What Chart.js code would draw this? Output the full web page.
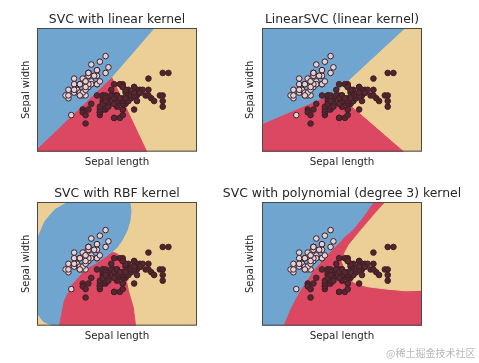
<!DOCTYPE html>
<html>
<head>
<meta charset="utf-8">
<script src="https://cdn.jsdelivr.net/npm/chart.js@4.4.1/dist/chart.umd.min.js"></script>
<style>
  html, body { margin: 0; padding: 0; background: #fff; }
  #wrap { position: relative; width: 479px; height: 363px; overflow: hidden; }
  canvas { position: absolute; }
  #mark { position: absolute; left: 386px; top: 345px; font: 10px 'Noto Sans CJK SC'; color: #b8b8b8; white-space: nowrap; }
</style>
</head>
<body>
<div id="wrap">
  <canvas id="c1" width="234" height="180" style="left:0;top:0"></canvas>
  <canvas id="c2" width="274" height="180" style="left:205px;top:0"></canvas>
  <canvas id="c3" width="234" height="180" style="left:0;top:174px"></canvas>
  <canvas id="c4" width="274" height="180" style="left:205px;top:174px"></canvas>
  <div id="mark">@稀土掘金技术社区</div>
</div>
<script>
// iris: sepal length / sepal width per species
const setosaLength = [5.1,4.9,4.7,4.6,5.0,5.4,4.6,5.0,4.4,4.9,5.4,4.8,4.8,4.3,5.8,5.7,5.4,5.1,5.7,5.1,5.4,5.1,4.6,5.1,4.8,5.0,5.0,5.2,5.2,4.7,4.8,5.4,5.2,5.5,4.9,5.0,5.5,4.9,4.4,5.1,5.0,4.5,4.4,5.0,5.1,4.8,5.1,4.6,5.3,5.0];
const setosaWidth = [3.5,3.0,3.2,3.1,3.6,3.9,3.4,3.4,2.9,3.1,3.7,3.4,3.0,3.0,4.0,4.4,3.9,3.5,3.8,3.8,3.4,3.7,3.6,3.3,3.4,3.0,3.4,3.5,3.4,3.2,3.1,3.4,4.1,4.2,3.1,3.2,3.5,3.6,3.0,3.4,3.5,2.3,3.2,3.5,3.8,3.0,3.8,3.2,3.7,3.3];
const versicolorLength = [7.0,6.4,6.9,5.5,6.5,5.7,6.3,4.9,6.6,5.2,5.0,5.9,6.0,6.1,5.6,6.7,5.6,5.8,6.2,5.6,5.9,6.1,6.3,6.1,6.4,6.6,6.8,6.7,6.0,5.7,5.5,5.5,5.8,6.0,5.4,6.0,6.7,6.3,5.6,5.5,5.5,6.1,5.8,5.0,5.6,5.7,5.7,6.2,5.1,5.7];
const versicolorWidth = [3.2,3.2,3.1,2.3,2.8,2.8,3.3,2.4,2.9,2.7,2.0,3.0,2.2,2.9,2.9,3.1,3.0,2.7,2.2,2.5,3.2,2.8,2.5,2.8,2.9,3.0,2.8,3.0,2.9,2.6,2.4,2.4,2.7,2.7,3.0,3.4,3.1,2.3,3.0,2.5,2.6,3.0,2.6,2.3,2.7,3.0,2.9,2.9,2.5,2.8];
const virginicaLength = [6.3,5.8,7.1,6.3,6.5,7.6,4.9,7.3,6.7,7.2,6.5,6.4,6.8,5.7,5.8,6.4,6.5,7.7,7.7,6.0,6.9,5.6,7.7,6.3,6.7,7.2,6.2,6.1,6.4,7.2,7.4,7.9,6.4,6.3,6.1,7.7,6.3,6.4,6.0,6.9,6.7,6.9,5.8,6.8,6.7,6.7,6.3,6.5,6.2,5.9];
const virginicaWidth = [3.3,2.7,3.0,2.9,3.0,3.0,2.5,2.9,2.5,3.6,3.2,2.7,3.0,2.5,2.8,3.2,3.0,3.8,2.6,2.2,3.2,2.8,2.8,2.7,3.3,3.2,2.8,3.0,2.8,3.0,2.8,3.8,2.8,2.8,2.6,3.0,3.4,3.1,3.0,3.1,3.1,3.1,2.7,3.2,3.3,3.0,2.5,3.0,3.4,3.0];

const xRange = [3.3, 8.9];
const yRange = [1.0, 5.4];
const plotBox = [[3.3,5.4],[8.9,5.4],[8.9,1.0],[3.3,1.0]];

// decision regions, [sepal length, sepal width] vertices
const linearBlue = [[3.3,5.4],[7.4,5.4],[5.91,3.65],[3.3,1.1]];
const linearRed = [[3.3,1.1],[5.91,3.65],[7.14,1.0],[3.3,1.0]];

const linSvcBlue = [[3.3,5.4],[8.3,5.4],[5.86,3.1],[3.3,1.99]];
const linSvcRed = [[3.3,1.99],[5.86,3.1],[8.25,1.0],[3.3,1.0]];

const rbfBlue = [[3.3,4.06],[3.58,4.72],[3.93,5.13],[4.4,5.4],[6.55,5.4],[6.59,5.07],[6.55,4.71],[6.44,4.36],[6.26,4.01],[6.09,3.77],[5.92,3.62],[5.56,3.35],[4.98,3.0],[4.51,2.47],[4.22,1.88],[4.05,1.0],[3.87,1.0],[3.52,1.15],[3.3,1.46]];
const rbfRed = [[5.92,3.62],[6.12,3.55],[6.26,3.3],[6.38,2.82],[6.5,2.24],[6.67,1.64],[6.75,1.0],[4.05,1.0],[4.22,1.88],[4.51,2.47],[4.98,3.0],[5.56,3.35]];

const polyBlue = [[3.3,5.4],[7.2,5.4],[6.85,4.89],[6.48,4.42],[6.17,4.15],[6.0,3.95],[5.53,3.47],[5.12,3.0],[4.77,2.47],[4.48,1.99],[4.25,1.52],[4.04,1.0],[3.3,1.0]];
const polyTan = [[7.63,5.4],[8.9,5.4],[8.9,2.26],[8.33,2.24],[7.66,2.3],[6.96,2.39],[6.5,2.55],[6.25,2.9],[6.1,3.3],[6.2,3.6],[6.35,3.88],[6.64,4.24],[6.93,4.59],[7.28,5.01]];

const BLUE = '#6fa5cf', RED = '#dc4862', TAN = '#ebcf97';
const TEXT = '#262626';

Chart.defaults.font.family = "'DejaVu Sans', sans-serif";

const frame = {
  id: 'frame',
  afterDatasetsDraw(chart) {
    const { ctx, chartArea: a } = chart;
    ctx.save();
    ctx.strokeStyle = '#4a4a4a';
    ctx.lineWidth = 1;
    ctx.strokeRect(a.left + 0.5, a.top + 0.5, a.right - a.left - 1, a.bottom - a.top - 1);
    ctx.restore();
  }
};

function points(xs, ys, fill) {
  return {
    data: xs.map((x, i) => ({ x, y: ys[i] })),
    backgroundColor: fill,
    borderColor: '#3c2028',
    borderWidth: 1,
    pointRadius: 2.8,
    order: 0
  };
}

function shape(poly, color, order) {
  const pts = poly.map(([x, y]) => ({ x, y }));
  pts.push(pts[0]);
  return {
    data: pts,
    showLine: true,
    fill: 'shape',
    backgroundColor: color,
    borderColor: color,
    borderWidth: 1,
    pointRadius: 0,
    tension: 0,
    order
  };
}

// leftGap / rightGap: room beside the plot area; the y title sits at yTitleX from the canvas edge
function panel(id, title, leftGap, rightGap, yTitleX, background, regions) {
  const datasets = [
    points(setosaLength, setosaWidth, '#e2d2d8'),
    points(versicolorLength, versicolorWidth, '#5a2630'),
    points(virginicaLength, virginicaWidth, '#552229')
  ];
  regions.forEach(r => datasets.push(shape(r[0], r[1], 1)));
  datasets.push(shape(plotBox, background, 2));

  const blank = { display: false, drawTicks: false };
  new Chart(document.getElementById(id), {
    type: 'scatter',
    data: { datasets },
    plugins: [frame],
    options: {
      responsive: false,
      animation: false,
      events: [],
      layout: { autoPadding: false, padding: { left: 0, right: 0, top: 0, bottom: 11 } },
      plugins: {
        legend: { display: false },
        tooltip: { enabled: false },
        title: {
          display: true, text: title, color: TEXT,
          font: { size: 12.4, weight: 'normal' },
          padding: { top: 12, bottom: 1.1 }
        }
      },
      scales: {
        x: {
          type: 'linear', min: xRange[0], max: xRange[1],
          ticks: { display: false }, grid: blank, border: { display: false },
          title: { display: true, text: 'Sepal length', color: TEXT, font: { size: 10.3 }, padding: { top: 4.5, bottom: 0.5 } }
        },
        y: {
          type: 'linear', min: yRange[0], max: yRange[1],
          ticks: { display: false }, grid: blank, border: { display: false },
          title: {
            display: true, text: 'Sepal width', color: TEXT, font: { size: 10 },
            padding: { top: yTitleX - 6, bottom: leftGap - yTitleX - 6 }
          }
        },
        yRight: {
          type: 'linear', position: 'right', min: yRange[0], max: yRange[1],
          ticks: { display: false }, grid: blank, border: { display: false },
          title: { display: true, text: '', font: { size: 10 }, padding: { top: 0, bottom: rightGap - 12 } }
        }
      }
    }
  });
}

panel('c1', 'SVC with linear kernel', 37, 37, 26, TAN, [[linearBlue, BLUE], [linearRed, RED]]);
panel('c2', 'LinearSVC (linear kernel)', 57, 57, 45, TAN, [[linSvcBlue, BLUE], [linSvcRed, RED]]);
panel('c3', 'SVC with RBF kernel', 37, 37, 26, TAN, [[rbfBlue, BLUE], [rbfRed, RED]]);
panel('c4', 'SVC with polynomial (degree 3) kernel', 57, 57, 45, RED, [[polyBlue, BLUE], [polyTan, TAN]]);
</script>
</body>
</html>
